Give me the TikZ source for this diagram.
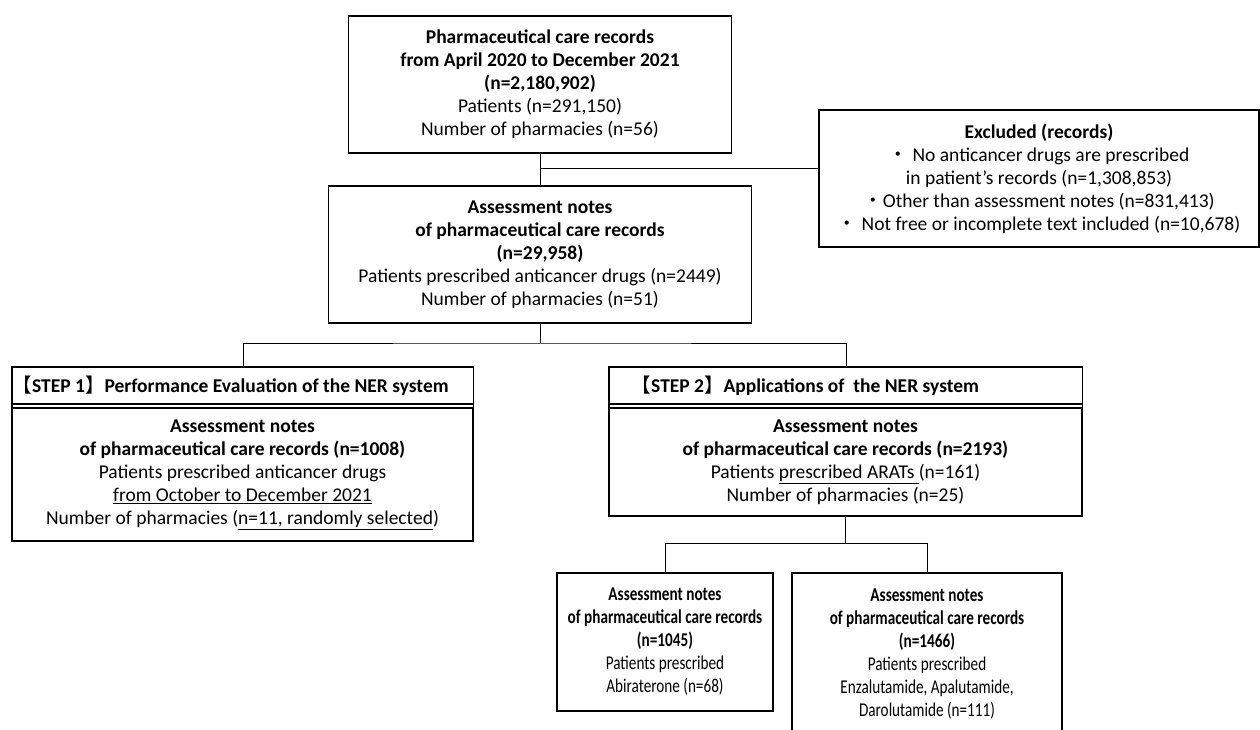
\documentclass[tikz,border=0pt]{standalone}
\usepackage{fontspec}
\setmainfont{Carlito}
\newfontfamily\cjk{Noto Sans CJK JP}
\newfontfamily\narrowfont[FakeStretch=0.78]{Carlito}
\newcommand{\stepopen}{{\cjk 【}}
\newcommand{\stepclose}{{\cjk 】}}
\newcommand{\jdot}{{\cjk ・}}
\tikzstyle{box}=[draw,line width=1.4pt,align=center,inner sep=0pt,font=\fontsize{19.5}{23}\selectfont]
\tikzstyle{narrow}=[font=\fontsize{19.5}{23}\narrowfont]
\tikzstyle{edge} = [draw,line width=0.9pt,-]

\begin{document}
\begin{tikzpicture}[x=1pt,y=-1pt]
    \path[use as bounding box,clip] (0,0) rectangle (1260,729);
    % First the records and the excluded ones
    \node[box,minimum width=383pt,minimum height=137pt] (records) at (540,84.5)
        {\textbf{Pharmaceutical care records}\\ \textbf{from April 2020 to December 2021}\\ \textbf{(n=2,180,902)}\\
         Patients (n=291,150)\\ Number of pharmacies (n=56)};
    \node[box,minimum width=440pt,minimum height=137pt] (excluded) at (1039,178.5)
        {\textbf{Excluded (records)}\\ \jdot\ No anticancer drugs are prescribed\\ in patient’s records (n=1,308,853)\\
         \jdot Other than assessment notes (n=831,413)\\ \jdot\ Not free or incomplete text included (n=10,678)};
    \node[box,minimum width=423pt,minimum height=137pt] (notes) at (540,254.5)
        {\textbf{Assessment notes}\\ \textbf{of pharmaceutical care records}\\ \textbf{(n=29,958)}\\
         Patients prescribed anticancer drugs (n=2449)\\ Number of pharmacies (n=51)};
    % The two steps
    \node[box,anchor=west,text width=461pt,align=flush left,minimum height=37pt] (step1head) at (12,385.5)
        {\stepopen\textbf{STEP 1}\stepclose\textbf{Performance Evaluation of the NER system}};
    \node[box,minimum width=461pt,minimum height=133pt] (step1) at (242.5,474.5)
        {\textbf{Assessment notes}\\ \textbf{of pharmaceutical care records (n=1008)}\\ Patients prescribed anticancer drugs\\
         \underline{from October to December 2021}\\ Number of pharmacies (\underline{n=11, randomly selected})};
    \node[box,anchor=west,text width=473pt,align=flush left,minimum height=37pt] (step2head) at (609,385.5)
        {\hspace*{22pt}\stepopen\textbf{STEP 2}\stepclose\textbf{Applications of\ \ the NER system}};
    \node[box,minimum width=473pt,minimum height=108pt] (step2) at (845.5,462)
        {\textbf{Assessment notes}\\ \textbf{of pharmaceutical care records (n=2193)}\\
         Patients \underline{prescribed ARATs }(n=161)\\ Number of pharmacies (n=25)};
    \foreach \s in {step1,step2}
        \path[box] (\s head.north west) rectangle (\s.south east);
    % The two groups of ARATs
    \node[box,narrow,minimum width=216pt,minimum height=138pt] (abira) at (665,642)
        {\textbf{Assessment notes}\\ \textbf{of pharmaceutical care records}\\ \textbf{(n=1045)}\\
         Patients prescribed\\ Abiraterone (n=68)};
    \node[box,narrow,minimum width=270pt,minimum height=163pt] (enza) at (927,654.5)
        {\textbf{Assessment notes}\\ \textbf{of pharmaceutical care records}\\ \textbf{(n=1466)}\\
         Patients prescribed\\ Enzalutamide, Apalutamide,\\ Darolutamide (n=111)};
    % Connect the boxes
    \coordinate (split0) at (540,168);
    \coordinate (split1) at (540,343);
    \coordinate (split2) at (845.5,543);
    \path[edge] (records) -- (notes);
    \path[edge] (split0) -- (split0 -| excluded.west);
    \path[edge] (notes) -- (split1);
    \path[edge] (step1head.north) |- (split1) -| (step2head.north);
    \path[edge] (step2) -- (split2);
    \path[edge] (abira.north) |- (split2) -| (enza.north);
\end{tikzpicture}
\end{document}
